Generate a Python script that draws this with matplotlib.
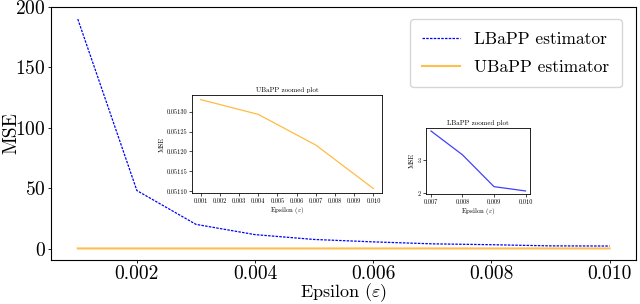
import matplotlib
matplotlib.use("Agg")
from matplotlib import pyplot as plt

plt.rcParams["font.family"] = "serif"
plt.rcParams["font.serif"] = ["cmr10", "DejaVu Serif"]
plt.rcParams["mathtext.fontset"] = "cm"
plt.rcParams["axes.formatter.use_mathtext"] = True

# main data
eps = [0.001, 0.002, 0.003, 0.004, 0.005, 0.006, 0.007, 0.008, 0.009, 0.010]
lbapp = [190.0, 48.0, 20.0, 11.5, 7.5, 5.5, 3.87, 3.15, 2.19, 2.06]
eps_u = [0.001, 0.004, 0.007, 0.010]
ubapp = [0.05133, 0.051293, 0.051216, 0.051107]

fig = plt.figure(figsize=(6.4, 3.04), dpi=100)
ax = fig.add_axes([0.08, 0.145, 0.914, 0.832])
ax.plot(eps, lbapp, color="blue", linestyle=(0, (2, 1)), linewidth=0.9, label="LBaPP estimator")
ax.plot(eps_u, ubapp, color="orange", alpha=0.7, linewidth=1.5, label="UBaPP estimator")
ax.set_xticks([0.002, 0.004, 0.006, 0.008, 0.010])
ax.set_xticklabels(["0.002", "0.004", "0.006", "0.008", "0.010"])
ax.set_yticks([0, 50, 100, 150, 200])
ax.tick_params(labelsize=14, length=2.5, width=0.6, pad=1.5)
ax.set_xlabel(r"Epsilon ($\varepsilon$)", fontsize=13)
ax.xaxis.set_label_coords(0.5, -0.085)
ax.set_ylabel("MSE", fontsize=14)
ax.yaxis.set_label_coords(-0.053, 0.5)
for s in ax.spines.values():
    s.set_linewidth(0.8)
ax.legend(loc="upper right", fontsize=12.5, handlelength=2.2, labelspacing=0.75,
          borderpad=0.7, bbox_to_anchor=(0.99, 0.985))

# UBaPP inset
ax1 = fig.add_axes([0.300, 0.365, 0.297, 0.322])
ax1.plot(eps_u, ubapp, color="orange", alpha=0.75, linewidth=0.9)
ax1.set_xticks(eps)
ax1.set_xticklabels(["%.3f" % e for e in eps])
ax1.set_yticks([0.05110, 0.05115, 0.05120, 0.05125, 0.05130])
ax1.set_yticklabels(["%.5f" % v for v in [0.05110, 0.05115, 0.05120, 0.05125, 0.05130]])
ax1.tick_params(labelsize=4.5, length=2, width=0.5, pad=1.5)
ax1.set_title("UBaPP zoomed plot", fontsize=5, pad=2)
ax1.set_xlabel(r"Epsilon ($\varepsilon$)", fontsize=5, labelpad=1)
ax1.set_ylabel("MSE", fontsize=5, labelpad=1)
for s in ax1.spines.values():
    s.set_linewidth(0.6)

# LBaPP inset
ax2 = fig.add_axes([0.666, 0.362, 0.1625, 0.217])
ax2.plot(eps[6:], lbapp[6:], color="blue", alpha=0.75, linewidth=0.9)
ax2.set_xticks(eps[6:])
ax2.set_xticklabels(["%.3f" % e for e in eps[6:]])
ax2.set_yticks([2, 3])
ax2.tick_params(labelsize=4.5, length=2, width=0.5, pad=1.5)
ax2.set_title("LBaPP zoomed plot", fontsize=5, pad=2)
ax2.set_xlabel(r"Epsilon ($\varepsilon$)", fontsize=5, labelpad=1)
ax2.set_ylabel("MSE", fontsize=5, labelpad=1)
for s in ax2.spines.values():
    s.set_linewidth(0.6)

plt.savefig("out.png", dpi=100)
